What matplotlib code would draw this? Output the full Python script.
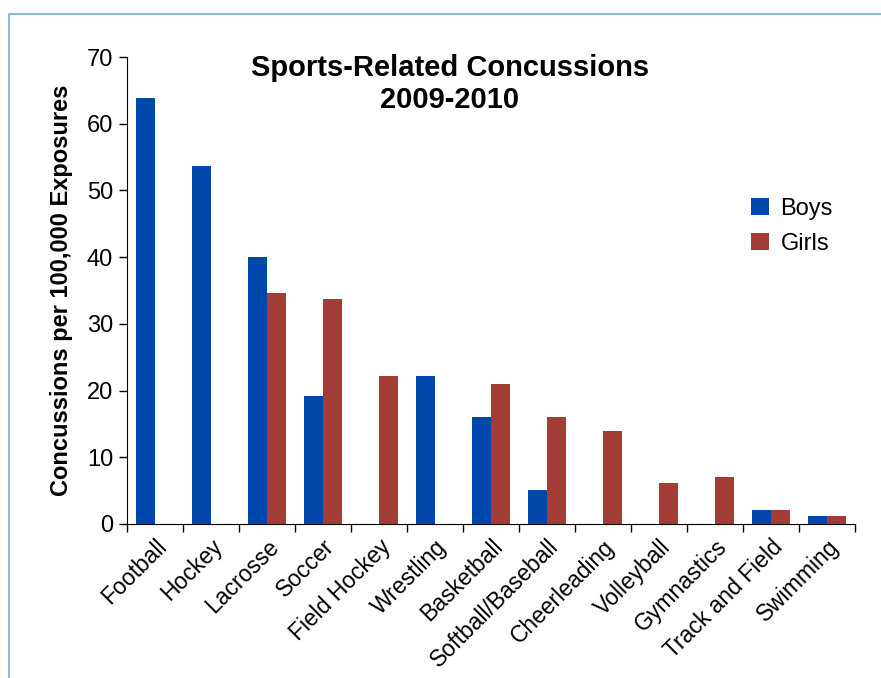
import numpy as np
import matplotlib
matplotlib.use('Agg')
import matplotlib.pyplot as plt
from matplotlib.lines import Line2D

plt.rcParams['font.family'] = ['Liberation Sans', 'DejaVu Sans']

## data
sports = ['Football', 'Hockey', 'Lacrosse', 'Soccer', 'Field Hockey', 'Wrestling',
          'Basketball', 'Softball/Baseball', 'Cheerleading', 'Volleyball',
          'Gymnastics', 'Track and Field', 'Swimming']
boys = [63.8, 53.7, 40.0, 19.2, 0, 22.2, 16.0, 5.1, 0, 0, 0, 2.1, 1.2]
girls = [0, 0, 34.7, 33.7, 22.2, 0, 21.0, 16.0, 14.0, 6.2, 7.0, 2.1, 1.2]

blue = '#0047AB'
red = '#A33C37'

fig = plt.figure(figsize=(8.81, 6.78), dpi=100)
ax = fig.add_axes([127/881, 1 - 524/678, (855 - 127)/881, (524 - 57)/678])

x = np.arange(len(sports))
w = 0.34
ax.bar(x - w, boys, width=w, align='edge', color=blue, label='Boys')
ax.bar(x, girls, width=w, align='edge', color=red, label='Girls')

ax.set_xlim(-0.5, len(sports) - 0.5)
ax.set_ylim(0, 70)
ax.set_yticks(range(0, 71, 10))
ax.tick_params(axis='y', labelsize=17, length=6, width=1, pad=4)

ax.set_xticks(x)
ax.set_xticklabels(sports, rotation=45, ha='right', va='top', rotation_mode='anchor', fontsize=16.5)
ax.set_xticks(np.arange(-0.5, len(sports)), minor=True)
ax.tick_params(axis='x', which='major', length=0, pad=8)
ax.tick_params(axis='x', which='minor', length=6, width=1)

for s in ['top', 'right']:
    ax.spines[s].set_visible(False)

ax.set_ylabel('Concussions per 100,000 Exposures', fontsize=17, fontweight='bold', labelpad=10)

fig.text(450/881, 1 - 84/678, 'Sports-Related Concussions\n2009-2010', ha='center', va='center',
         fontsize=21, fontweight='bold', linespacing=1.15)

ax.legend(loc='upper left', bbox_to_anchor=(751/881, 1 - 198/678), bbox_transform=fig.transFigure,
          frameon=False, fontsize=17, handlelength=0.75, handleheight=0.75, handletextpad=0.5,
          labelspacing=0.55, borderpad=0, borderaxespad=0)

# light blue frame around the figure (left and top only)
fig.add_artist(Line2D([9/881, 9/881, 1], [0, 1 - 14/678, 1 - 14/678], transform=fig.transFigure,
                      color='#8DB9D3', linewidth=1.5))

plt.savefig('out.png', dpi=100)
